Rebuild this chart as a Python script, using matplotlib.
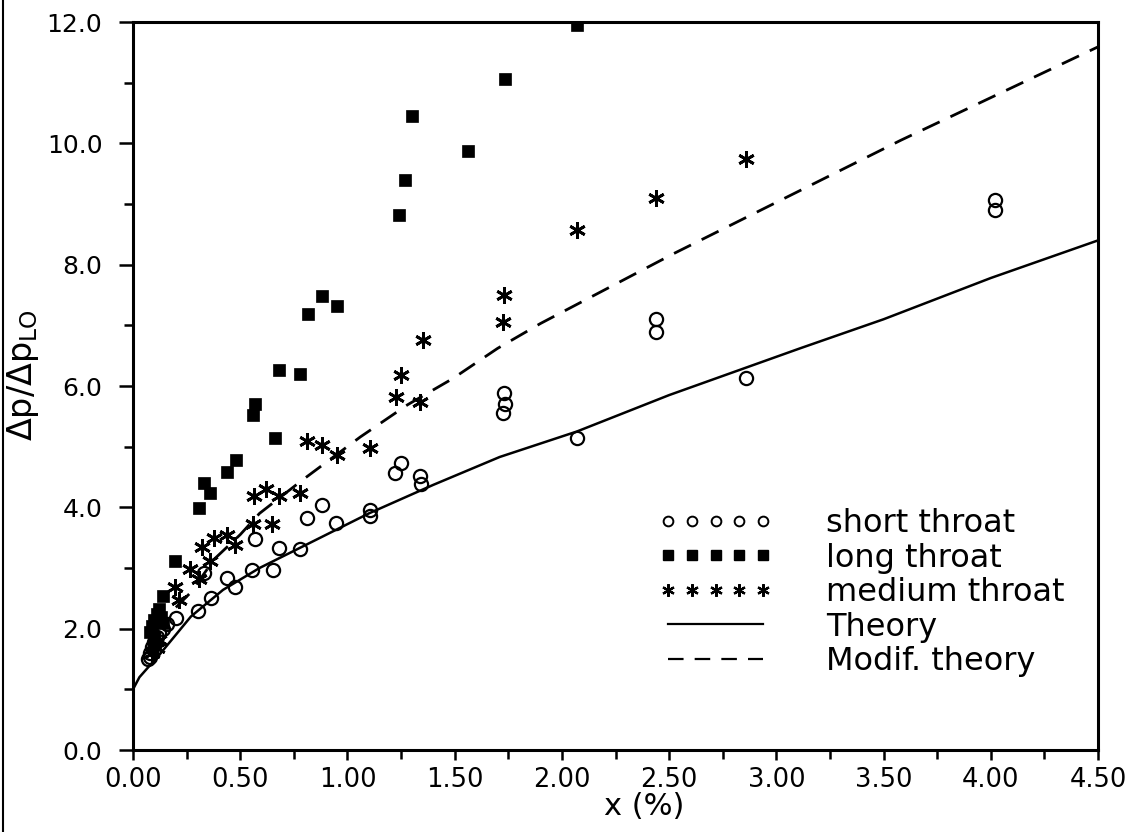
import matplotlib
matplotlib.use('Agg')
import matplotlib.pyplot as plt
from matplotlib.lines import Line2D

# ---- data ----
short_x = [0.07, 0.08, 0.09, 0.10, 0.11, 0.12, 0.14, 0.16, 0.08, 0.10,
           0.20, 0.305, 0.364, 0.33, 0.44, 0.475, 0.555, 0.655, 0.57, 0.68,
           0.78, 0.81, 0.88, 0.947, 1.105, 1.105, 1.22, 1.25, 1.34, 1.345,
           1.725, 1.735, 1.73, 2.07, 2.44, 2.44, 2.86, 4.02, 4.02]
short_y = [1.50, 1.60, 1.70, 1.78, 1.86, 1.93, 2.00, 2.08, 1.53, 1.65,
           2.17, 2.29, 2.50, 2.92, 2.83, 2.68, 2.96, 2.97, 3.47, 3.33,
           3.32, 3.83, 4.04, 3.75, 3.96, 3.85, 4.57, 4.73, 4.52, 4.38,
           5.56, 5.70, 5.88, 5.14, 6.89, 7.11, 6.13, 8.90, 9.06]

long_x = [0.08, 0.09, 0.10, 0.11, 0.12, 0.13, 0.14, 0.10,
          0.14, 0.196, 0.31, 0.33, 0.36, 0.44, 0.48, 0.56, 0.57, 0.66,
          0.68, 0.78, 0.815, 0.88, 0.95, 1.24, 1.27, 1.30, 1.56, 1.735, 2.07]
long_y = [1.95, 2.05, 2.15, 2.25, 2.32, 2.20, 2.10, 1.85,
          2.54, 3.12, 3.99, 4.40, 4.24, 4.58, 4.78, 5.52, 5.70, 5.14,
          6.26, 6.20, 7.18, 7.48, 7.32, 8.82, 9.40, 10.45, 9.88, 11.06, 11.95]

med_x = [0.09, 0.10, 0.12, 0.11,
         0.216, 0.196, 0.266, 0.31, 0.32, 0.36, 0.378, 0.44, 0.475, 0.56,
         0.65, 0.565, 0.62, 0.68, 0.78, 0.81, 0.88, 0.95, 1.105, 1.225,
         1.25, 1.34, 1.35, 1.725, 1.73, 2.07, 2.44, 2.86]
med_y = [1.60, 1.72, 1.82, 1.68,
         2.48, 2.68, 2.99, 2.82, 3.35, 3.12, 3.49, 3.54, 3.38, 3.72,
         3.72, 4.19, 4.31, 4.18, 4.23, 5.09, 5.03, 4.86, 4.97, 5.82,
         6.18, 5.74, 6.76, 7.06, 7.50, 8.57, 9.10, 9.74]

theory_x = [0.0, 0.03, 0.13, 0.27, 0.42, 0.59, 0.80, 1.10, 1.40, 1.71,
            2.07, 2.50, 3.11, 3.50, 4.00, 4.50]
theory_y = [1.00, 1.20, 1.60, 2.20, 2.64, 3.00, 3.37, 3.90, 4.37, 4.83,
            5.25, 5.85, 6.62, 7.10, 7.78, 8.40]

modif_x = [0.20, 0.27, 0.38, 0.50, 0.59, 0.79, 1.06, 1.28, 1.49, 1.70,
           1.90, 2.52, 3.58, 4.50]
modif_y = [2.35, 2.60, 3.15, 3.55, 3.90, 4.45, 5.16, 5.69, 6.12, 6.62,
           7.03, 8.18, 10.05, 11.59]

x_ticks = [0.0, 0.5, 1.0, 1.5, 2.0, 2.5, 3.0, 3.5, 4.0, 4.5]
y_ticks = [0.0, 2.0, 4.0, 6.0, 8.0, 10.0, 12.0]
labels = ['short throat', 'long throat', 'medium throat', 'Theory', 'Modif. theory']

plt.rcParams['font.family'] = ['DejaVu Sans']
plt.rcParams['mathtext.fontset'] = 'custom'
plt.rcParams['mathtext.rm'] = 'DejaVu Sans'

W, H = 1128, 832
fig = plt.figure(figsize=(W / 100, H / 100), dpi=100)
ax = fig.add_axes([133 / W, 82 / H, 965 / W, 728 / H])

ax.plot(theory_x, theory_y, color='black', lw=1.8, zorder=2)
ax.plot(modif_x, modif_y, color='black', lw=2.0, dashes=(6.8, 4.3), zorder=2)
ax.plot(short_x, short_y, ls='none', marker='o', ms=9.5, mfc='none',
        mec='black', mew=1.6, zorder=3)
ax.plot(long_x, long_y, ls='none', marker='s', ms=9, mfc='black',
        mec='black', mew=0.5, zorder=3)
ax.plot(med_x, med_y, ls='none', marker=(6, 2, 0), ms=12, mec='black',
        mew=2.0, zorder=3)

ax.set_xlim(0, 4.5)
ax.set_ylim(0, 12)
ax.set_xticks(x_ticks)
ax.set_xticklabels([f'{v:.2f}' for v in x_ticks])
ax.set_yticks(y_ticks)
ax.set_yticklabels([f'{v:.1f}' for v in y_ticks])
ax.set_xticks([0.25 + 0.5 * i for i in range(9)], minor=True)
ax.set_yticks([1.0 + 2 * i for i in range(6)], minor=True)

for s in ax.spines.values():
    s.set_linewidth(2.2)
ax.tick_params(axis='y', which='major', direction='out', length=10, width=1.8,
               labelsize=18, pad=12)
ax.tick_params(axis='y', which='minor', direction='out', length=6.5, width=1.8)
ax.tick_params(axis='x', which='major', direction='out', length=7.5, width=1.8,
               labelsize=18.5, pad=5)
ax.tick_params(axis='x', which='minor', direction='out', length=6.5, width=1.8)

ax.set_xlabel('x (%)', fontsize=22)
ax.xaxis.set_label_coords(0.53, -0.058)
ax.set_ylabel(r'Δp/Δp$_{\mathrm{LO}}$', fontsize=24)
ax.yaxis.set_label_coords(-0.095, 0.515)

handles = [
    Line2D([], [], ls='none', marker='o', ms=7, mfc='none', mec='black', mew=1.4),
    Line2D([], [], ls='none', marker='s', ms=6.5, mfc='black', mec='black'),
    Line2D([], [], ls='none', marker=(6, 2, 0), ms=9, mec='black', mew=1.6),
    Line2D([], [], color='black', lw=1.6),
    Line2D([], [], color='black', lw=1.6, dashes=(7, 5)),
]
leg = ax.legend(handles, labels, numpoints=5, fontsize=23, frameon=False,
                loc='upper left', bbox_to_anchor=(658 / W, 1 - 508 / H),
                bbox_transform=fig.transFigure, borderpad=0, borderaxespad=0,
                handlelength=3.6, handletextpad=1.65, labelspacing=0.11)

fig.add_artist(Line2D([3 / W, 3 / W], [0, 1], transform=fig.transFigure,
                      color='black', lw=1.5))

fig.savefig('out.png', dpi=100)
